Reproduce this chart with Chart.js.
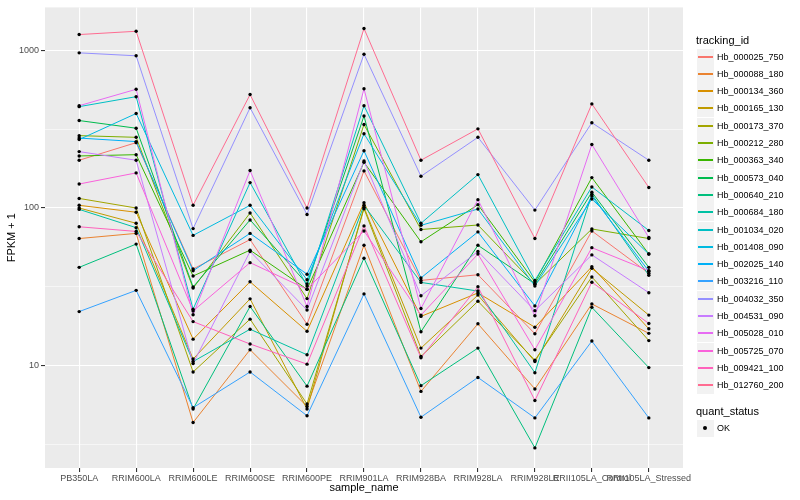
<!DOCTYPE html>
<html>
<head>
<meta charset="utf-8">
<script src="https://cdn.jsdelivr.net/npm/chart.js@4.4.1/dist/chart.umd.min.js"></script>
<style>
  body { margin: 0; background: #fff; font-family: "Liberation Sans", Arial, sans-serif; }
  #wrap { position: relative; width: 800px; height: 500px; }
  #grafico { position: absolute; left: 0; top: 0; }
  .leg-title { position: absolute; left: 696px; font-size: 11px; color: #000; line-height: 13px; }
  .leg-key { position: absolute; left: 697px; width: 17px; height: 17px; background: #F2F2F2; }
  .leg-key .ln { position: absolute; left: 1px; right: 1px; top: 7px; height: 2px; }
  .leg-key .pt { position: absolute; left: 6px; top: 6px; width: 4px; height: 4px; border-radius: 50%; background: #000; }
  .leg-lbl { position: absolute; left: 717px; font-size: 9px; color: #000; line-height: 17px; white-space: nowrap; }
</style>
</head>
<body>
<div id="wrap">
  <canvas id="grafico" width="800" height="500"></canvas>
</div>
<script>
// categorias do eixo x
const amostras = ['PB350LA', 'RRIM600LA', 'RRIM600LE', 'RRIM600SE', 'RRIM600PE', 'RRIM901LA',
  'RRIM928BA', 'RRIM928LA', 'RRIM928LE', 'RRII105LA_Control', 'RRII105LA_Stressed'];

// FPKM + 1 por gene
const hb_000025_750 = [201, 260, 41, 63, 18.3, 172, 34.7, 37.7, 15.9, 71.5, 38.5];
const hb_000088_180 = [64, 69, 4.35, 12.6, 5.5, 58, 6.85, 18.4, 7.1, 24.6, 16];
const hb_000134_360 = [104, 94, 14.7, 34, 16.5, 108, 20.5, 28.9, 17.5, 42.4, 17.1];
const hb_000165_130 = [100, 80, 11, 26.5, 5.3, 101, 12.9, 28, 10.6, 41.4, 20.9];
const hb_000173_370 = [115, 100, 9.1, 19.7, 5.7, 99, 11.4, 25.6, 10.8, 36.5, 14.4];
const hb_000212_280 = [288, 281, 31, 93, 26.6, 339, 73, 78, 32.8, 73.6, 64];
const hb_000363_340 = [214, 218, 37, 54, 30.5, 195, 61, 105, 33.9, 156, 51];
const hb_000573_040 = [359, 321, 31.5, 84, 33, 384, 16.4, 58, 33, 126, 42];
const hb_000640_210 = [42, 59, 5.3, 23.7, 7.4, 48, 7.45, 12.9, 3.0, 23.4, 9.7];
const hb_000684_180 = [98, 75, 10.6, 17, 11.7, 104, 33.7, 29.7, 9, 122, 37.4];
const hb_001034_020 = [440, 509, 22.8, 145, 32, 446, 80, 163, 34.7, 136, 72];
const hb_001408_090 = [272, 398, 67, 104, 35, 296, 77.6, 98.5, 32, 114, 51];
const hb_002025_140 = [278, 264, 40, 69, 38, 231, 36, 70.5, 23.9, 119, 39.7];
const hb_003216_110 = [22, 30, 5.4, 9.1, 4.8, 28.5, 4.7, 8.4, 4.65, 14.3, 4.65];
const hb_004032_350 = [966, 925, 74, 433, 91, 947, 159, 281, 97, 348, 201];
const hb_004531_090 = [228, 201, 10.3, 53, 22.5, 199, 27.7, 53, 22.3, 50.4, 29];
const hb_005028_010 = [446, 567, 21, 173, 23.7, 571, 23, 113, 20.7, 253, 65];
const hb_005725_070 = [142, 167, 22.2, 45, 30.5, 71.5, 20.9, 51, 12.6, 56, 40];
const hb_009421_100 = [76, 71, 19, 13.7, 10.2, 77, 11.2, 31.6, 6.0, 33.8, 18.5];
const hb_012760_200 = [1262, 1324, 104, 525, 100, 1378, 201, 318, 64, 458, 135];

const genes = ['Hb_000025_750', 'Hb_000088_180', 'Hb_000134_360', 'Hb_000165_130', 'Hb_000173_370',
  'Hb_000212_280', 'Hb_000363_340', 'Hb_000573_040', 'Hb_000640_210', 'Hb_000684_180',
  'Hb_001034_020', 'Hb_001408_090', 'Hb_002025_140', 'Hb_003216_110', 'Hb_004032_350',
  'Hb_004531_090', 'Hb_005028_010', 'Hb_005725_070', 'Hb_009421_100', 'Hb_012760_200'];
const valoresGenes = [hb_000025_750, hb_000088_180, hb_000134_360, hb_000165_130, hb_000173_370,
  hb_000212_280, hb_000363_340, hb_000573_040, hb_000640_210, hb_000684_180,
  hb_001034_020, hb_001408_090, hb_002025_140, hb_003216_110, hb_004032_350,
  hb_004531_090, hb_005028_010, hb_005725_070, hb_009421_100, hb_012760_200];

// ticks do eixo y (maiores com rotulo, menores so com grade)
const ticksMaiores = [10, 100, 1000];
const ticksMenores = [3.1623, 31.623, 316.23];

// paleta padrao do ggplot (hue_pal, 20 cores)
const cores = ['#F8766D', '#EA8331', '#D89000', '#C09B00', '#A3A500', '#7CAE00', '#39B600', '#00BB4E',
  '#00BF7D', '#00C1A3', '#00BFC4', '#00BAE0', '#00B0F6', '#35A2FF', '#9590FF', '#C77CFF',
  '#E76BF3', '#FA62DB', '#FF62BC', '#FF6C91'];

const fonte = '"Liberation Sans", Arial, sans-serif';

// fundo cinza do painel
const fundoPainel = {
  id: 'fundoPainel',
  beforeDraw(chart) {
    const { ctx, chartArea: a } = chart;
    ctx.save();
    ctx.fillStyle = '#EBEBEB';
    ctx.fillRect(a.left, a.top, a.right - a.left, a.bottom - a.top);
    ctx.restore();
  }
};

function montarDatasets() {
  let datasets = [];
  // pontos pretos por cima de tudo
  let pontos = [];
  valoresGenes.forEach(vals => vals.forEach((v, i) => pontos.push({ x: i, y: v })));
  datasets.push({
    label: 'OK',
    data: pontos,
    showLine: false,
    pointRadius: 1.7,
    pointBackgroundColor: '#000',
    pointBorderWidth: 0,
    order: 0
  });
  valoresGenes.forEach((vals, g) => {
    datasets.push({
      label: genes[g],
      data: vals.map((v, i) => ({ x: i, y: v })),
      borderColor: cores[g],
      borderWidth: 1,
      pointRadius: 0,
      tension: 0,
      fill: false,
      order: 20 - g
    });
  });
  return datasets;
}

function criarLegenda() {
  let wrap = document.getElementById('wrap');
  let html = '<div class="leg-title" style="top:34px">tracking_id</div>';
  genes.forEach((g, i) => {
    let topo = Math.round(57 + 17.3 * i - 8.5);
    html += `<div class="leg-key" style="top:${topo}px"><div class="ln" style="background-color:${cores[i]}"></div></div>`;
    html += `<div class="leg-lbl" style="top:${topo}px">${g}</div>`;
  });
  html += '<div class="leg-title" style="top:405px">quant_status</div>';
  html += '<div class="leg-key" style="top:420px"><div class="pt"></div></div>';
  html += '<div class="leg-lbl" style="top:420px">OK</div>';
  wrap.insertAdjacentHTML('beforeend', html);
}

function criarGrafico() {
  let ctx = document.getElementById('grafico').getContext('2d');
  new Chart(ctx, {
    type: 'line',
    data: { datasets: montarDatasets() },
    plugins: [fundoPainel],
    options: {
      responsive: false,
      animation: false,
      layout: { padding: { left: 0, top: 5, right: 117, bottom: 0 } },
      plugins: { legend: { display: false }, tooltip: { enabled: false } },
      scales: {
        x: {
          type: 'linear',
          min: -0.6,
          max: amostras.length - 1 + 0.6,
          afterBuildTicks: scale => { scale.ticks = amostras.map((a, i) => ({ value: i })); },
          afterFit: scale => { scale.height = 32; },
          ticks: {
            autoSkip: false, maxRotation: 0, minRotation: 0, padding: 1,
            color: '#4D4D4D', font: { family: fonte, size: 9 },
            callback: v => amostras[v]
          },
          grid: { color: '#FFFFFF', lineWidth: 1.1, tickLength: 4, tickColor: '#333333' },
          border: { display: false },
          title: { display: true, text: 'sample_name', color: '#000', font: { family: fonte, size: 11 }, padding: { top: 0, bottom: 5 } }
        },
        y: {
          type: 'logarithmic',
          min: 2.236,
          max: 1877,
          afterBuildTicks: scale => {
            scale.ticks = ticksMenores.concat(ticksMaiores).sort((a, b) => a - b).map(v => ({ value: v }));
          },
          afterFit: scale => { scale.width = 45; },
          ticks: {
            autoSkip: false, padding: 2,
            color: '#4D4D4D', font: { family: fonte, size: 9 },
            callback: v => ticksMaiores.includes(v) ? String(v) : ''
          },
          grid: {
            color: '#FFFFFF',
            lineWidth: c => (c.tick && ticksMaiores.includes(c.tick.value)) ? 1.1 : 0.55,
            tickLength: 4,
            tickColor: c => (c.tick && ticksMaiores.includes(c.tick.value)) ? '#333333' : 'rgba(0,0,0,0)'
          },
          border: { display: false },
          title: { display: true, text: 'FPKM + 1', color: '#000', font: { family: fonte, size: 11 }, padding: { top: 5, bottom: 0 } }
        }
      }
    }
  });
}

document.addEventListener('DOMContentLoaded', () => {
  criarLegenda();
  criarGrafico();
});
</script>
</body>
</html>
